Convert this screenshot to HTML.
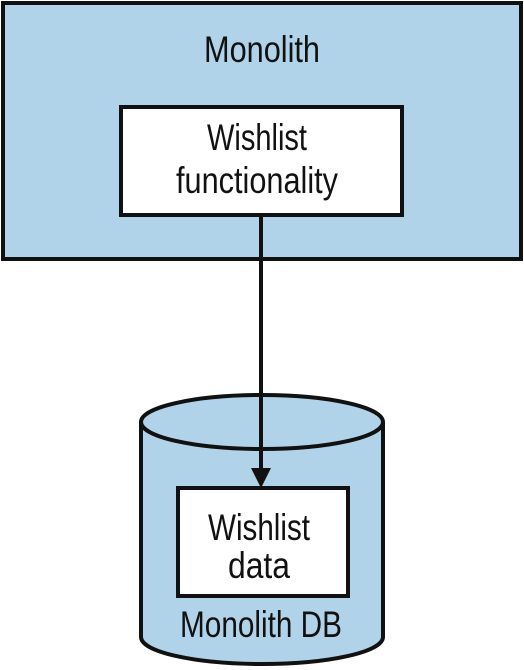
<!DOCTYPE html>
<html><head><style>html,body{margin:0;padding:0;background:#fff}svg{display:block}</style></head>
<body>
<svg width="524" height="670" viewBox="0 0 524 670" xmlns="http://www.w3.org/2000/svg" font-family="'Liberation Sans', sans-serif" fill="#111">
<rect x="3" y="3" width="518" height="256" fill="#b0d3ea" stroke="#111" stroke-width="4"/>
<text x="262" y="62" font-size="37" text-anchor="middle" textLength="116" lengthAdjust="spacingAndGlyphs">Monolith</text>
<rect x="121" y="107" width="281" height="108" fill="#fff" stroke="#111" stroke-width="4"/>
<text x="257" y="150" font-size="37" text-anchor="middle" textLength="100" lengthAdjust="spacingAndGlyphs">Wishlist</text>
<text x="257" y="193" font-size="37" text-anchor="middle" textLength="162" lengthAdjust="spacingAndGlyphs">functionality</text>
<path d="M141 422 L141 637 A121 27 0 0 0 383 637 L383 422" fill="#b0d3ea" stroke="#111" stroke-width="4"/>
<ellipse cx="262" cy="422" rx="121" ry="27" fill="#b0d3ea" stroke="#111" stroke-width="4"/>
<rect x="178" y="488" width="170" height="108" fill="#fff" stroke="#111" stroke-width="4"/>
<line x1="261" y1="215" x2="261" y2="470" stroke="#111" stroke-width="4"/>
<polygon points="251,468 271,468 261,488" fill="#111"/>
<text x="259" y="540" font-size="37" text-anchor="middle" textLength="102" lengthAdjust="spacingAndGlyphs">Wishlist</text>
<text x="259" y="578" font-size="37" text-anchor="middle" textLength="62" lengthAdjust="spacingAndGlyphs">data</text>
<text x="261" y="637" font-size="37" text-anchor="middle" textLength="162" lengthAdjust="spacingAndGlyphs">Monolith DB</text>
</svg>
</body></html>
